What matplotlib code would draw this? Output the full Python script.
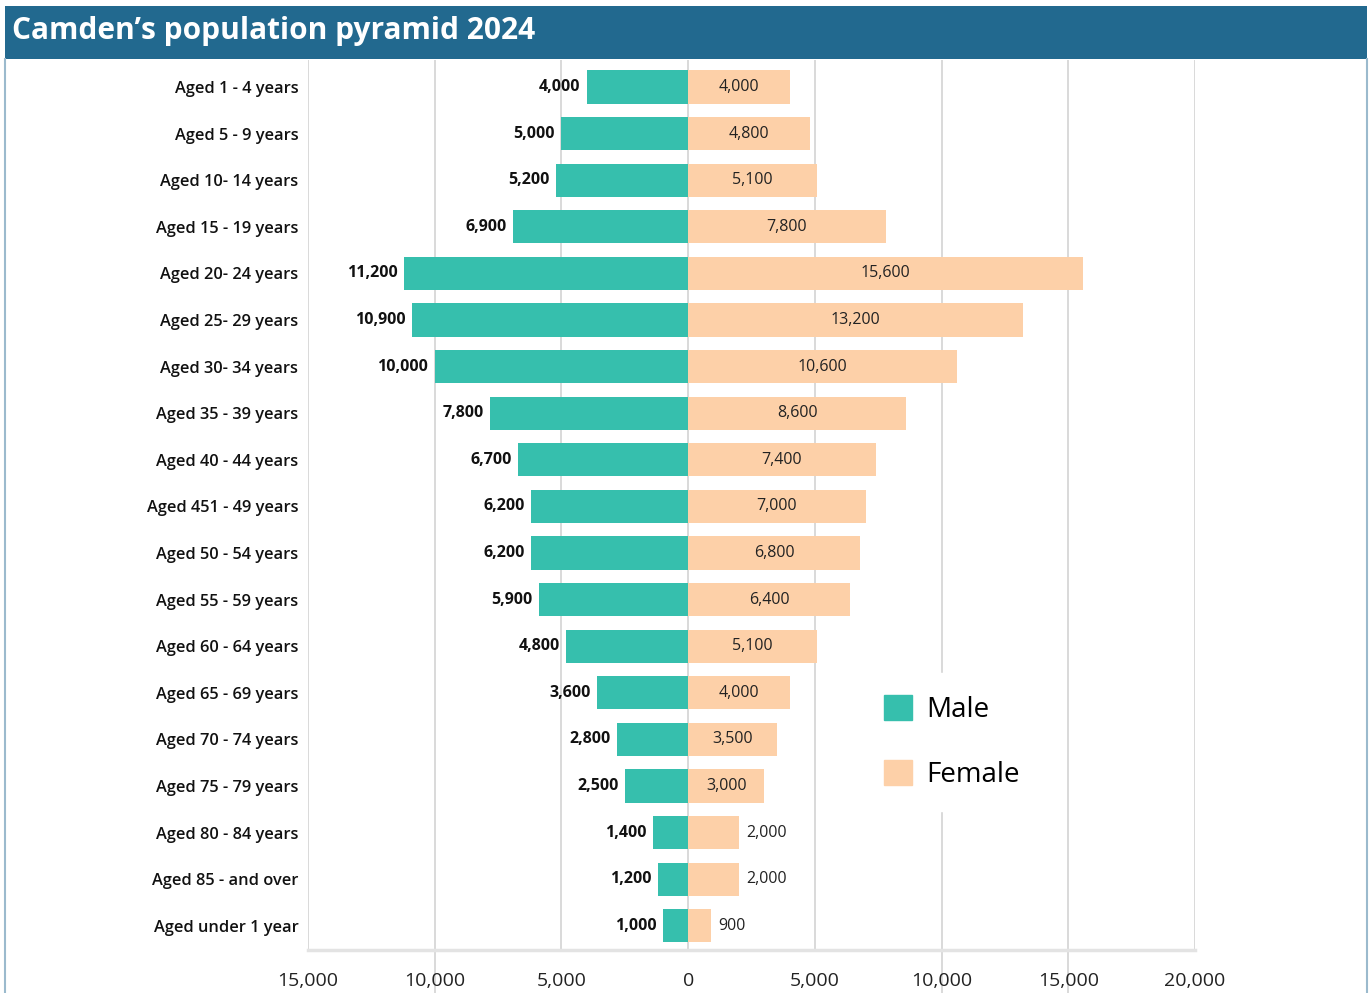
import matplotlib.pyplot as plt
from matplotlib.patches import Rectangle, Patch
from matplotlib.lines import Line2D

# data
age_groups = ["Aged 1 - 4 years", "Aged 5 - 9 years", "Aged 10- 14 years", "Aged 15 - 19 years",
              "Aged 20- 24 years", "Aged 25- 29 years", "Aged 30- 34 years", "Aged 35 - 39 years",
              "Aged 40 - 44 years", "Aged 451 - 49 years", "Aged 50 - 54 years", "Aged 55 - 59 years",
              "Aged 60 - 64 years", "Aged 65 - 69 years", "Aged 70 - 74 years", "Aged 75 - 79 years",
              "Aged 80 - 84 years", "Aged 85 - and over", "Aged under 1 year"]
male = [4000, 5000, 5200, 6900, 11200, 10900, 10000, 7800, 6700, 6200, 6200, 5900,
        4800, 3600, 2800, 2500, 1400, 1200, 1000]
female = [4000, 4800, 5100, 7800, 15600, 13200, 10600, 8600, 7400, 7000, 6800, 6400,
          5100, 4000, 3500, 3000, 2000, 2000, 900]
ticks = [-15000, -10000, -5000, 0, 5000, 10000, 15000, 20000]

male_color = "#36bfad"
female_color = "#fdd0a8"
title_color = "#22698f"

plt.rcParams['font.family'] = ['Open Sans', 'DejaVu Sans']

fig = plt.figure(figsize=(13.7, 9.93), dpi=100)
W, H = 1370, 993

# title bar
fig.patches.append(Rectangle((5 / W, 1 - 59 / H), 1362 / W, 53 / H, transform=fig.transFigure,
                             facecolor=title_color, edgecolor='none', zorder=0))
fig.text(12 / W, 1 - 31 / H, "Camden\u2019s population pyramid 2024", color='white',
         fontsize=21.5, fontweight='bold', va='center', ha='left')
# side border
for xb in (5, 1367):
    fig.add_artist(Line2D([xb / W, xb / W], [0, 1 - 59 / H], transform=fig.transFigure,
                          color="#9bbacd", lw=1.5))

ax = fig.add_axes([308 / W, 1 - 950 / H, 887 / W, 890 / H])
y = list(range(len(age_groups)))
ax.barh(y, [-m for m in male], height=0.71, color=male_color, zorder=3)
ax.barh(y, female, height=0.71, color=female_color, zorder=3)

ax.set_xlim(-15000, 20000)
ax.set_ylim(len(age_groups) - 0.48, -0.58)

for t in ticks:
    ax.axvline(t, color="#d3d3d3", lw=1.2, zorder=1)
for t in (-10000, 10000, 15000):
    ax.axvline(t, ymin=-43 / 890, ymax=0, color="#d3d3d3", lw=1.2, zorder=1, clip_on=False)

for i, (m, f) in enumerate(zip(male, female)):
    ax.text(-m - 250, i, f"{m:,}", ha='right', va='center', fontsize=11.5,
            fontweight='bold', color="#111111", zorder=4)
    if f >= 3000:
        ax.text(f / 2, i, f"{f:,}", ha='center', va='center', fontsize=11.5, color="#222222", zorder=4)
    else:
        ax.text(f + 300, i, f"{f:,}", ha='left', va='center', fontsize=11.5, color="#222222", zorder=4)

ax.set_yticks(y)
ax.set_yticklabels(age_groups, fontsize=11.8, fontweight='semibold', color="#111111")
ax.tick_params(axis='y', length=0, pad=7)
ax.set_xticks(ticks)
ax.set_xticklabels([f"{abs(t):,}" for t in ticks], fontsize=14, color="#222222")
ax.tick_params(axis='x', length=0, pad=16)

for s in ('top', 'right'):
    ax.spines[s].set_visible(False)
ax.spines['left'].set_visible(False)
ax.spines['bottom'].set_color("#e3e3e3")
ax.spines['bottom'].set_linewidth(2.5)

leg = ax.legend(handles=[Patch(color=male_color, label="Male"), Patch(color=female_color, label="Female")],
                loc='center', bbox_to_anchor=(952 / W, 1 - 742 / H), bbox_transform=fig.transFigure,
                fontsize=20, handlelength=1.0, handleheight=1.0, labelspacing=1.3,
                handletextpad=0.5, frameon=True, facecolor='white', edgecolor='white',
                framealpha=1, borderpad=0.8, fancybox=False)
leg.set_zorder(5)

fig.savefig("out.png", dpi=100)
